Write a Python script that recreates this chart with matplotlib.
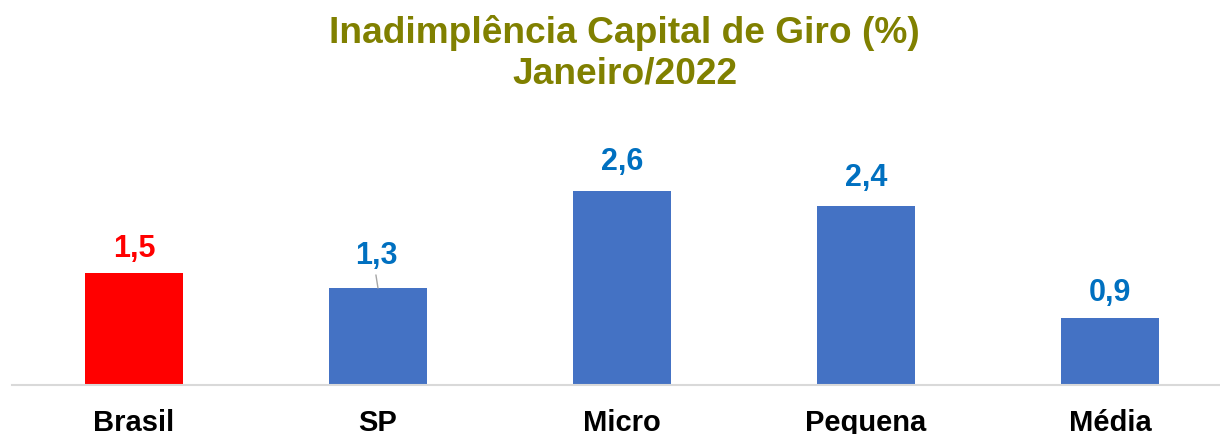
import matplotlib
matplotlib.use("Agg")
import matplotlib.pyplot as plt

plt.rcParams["font.family"] = ["Liberation Sans", "DejaVu Sans"]

categories = ["Brasil", "SP", "Micro", "Pequena", "Média"]
values = [1.5, 1.3, 2.6, 2.4, 0.9]
labels = ["1,5", "1,3", "2,6", "2,4", "0,9"]

bar_colors = ["#FF0000", "#4472C4", "#4472C4", "#4472C4", "#4472C4"]
label_colors = ["#FF0000", "#0070C0", "#0070C0", "#0070C0", "#0070C0"]
label_offsets = [11.5, 17.3, 15.1, 14.4, 12.2]  # points from bar top to label baseline

W, H = 1220, 434
fig = plt.figure(figsize=(W / 100, H / 100), dpi=100)
ax = fig.add_axes([12 / W, 49 / H, 1208 / W, 285 / H])

x = range(len(categories))
ax.bar(x, values, width=0.40, color=bar_colors, zorder=2)
ax.set_xlim(-0.5, -0.5 + 1208 / 244)
ax.set_ylim(0, 285 / 74.5)

for i, (v, lab) in enumerate(zip(values, labels)):
    if i == 1:
        # SP label sits higher, with a leader line to the bar
        ax.annotate(lab, xy=(i, v), xytext=(-1.5, label_offsets[i]),
                    textcoords="offset points", ha="center", va="baseline",
                    fontsize=22, fontweight="bold", color=label_colors[i])
        ax.annotate("", xy=(i, v), xytext=(-1.5, 9.5),
                    textcoords="offset points",
                    arrowprops=dict(arrowstyle="-", color="#A6A6A6", lw=1,
                                    shrinkA=0, shrinkB=0))
    else:
        ax.annotate(lab, xy=(i, v), xytext=(0, label_offsets[i]),
                    textcoords="offset points", ha="center", va="baseline",
                    fontsize=22, fontweight="bold", color=label_colors[i])

ax.set_xticks(list(x))
ax.set_xticklabels(categories, fontsize=21, fontweight="bold", color="black")
ax.tick_params(axis="x", length=0, pad=17)
ax.set_yticks([])
for s in ["top", "right", "left"]:
    ax.spines[s].set_visible(False)
ax.spines["bottom"].set_color("#D9D9D9")
ax.spines["bottom"].set_linewidth(1.5)

fig.text(0.512, 1 - 43 / H, "Inadimplência Capital de Giro (%)", ha="center", va="baseline",
         fontsize=26.7, fontweight="bold", color="#808000")
fig.text(0.512, 1 - 83 / H, "Janeiro/2022", ha="center", va="baseline",
         fontsize=26.7, fontweight="bold", color="#808000")

fig.savefig("out.png", dpi=100)
